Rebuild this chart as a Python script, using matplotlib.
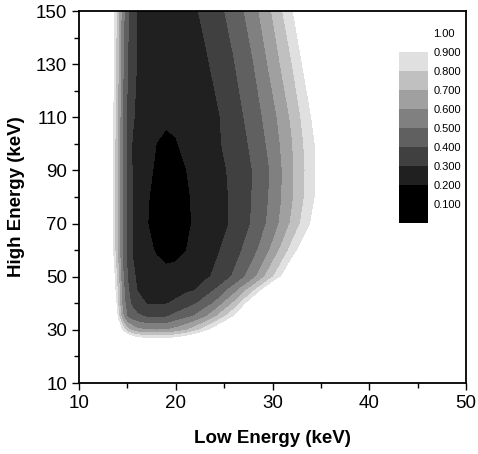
import numpy as np
import matplotlib.pyplot as plt

plt.rcParams['font.family'] = ['Liberation Sans', 'DejaVu Sans']

# grid (keV)
low_energy = [13, 13.5, 14, 14.5, 15, 15.5, 16, 17, 18, 19, 20, 21, 22, 23, 24, 26, 28, 30, 32, 34, 36]
high_energy = [25, 30, 35, 40, 45, 50, 60, 70, 80, 90, 100, 110, 130, 150]

# relative value at each (high, low) grid point, one row per high energy
ratio = [
    [1.60, 1.50, 1.40, 1.30, 1.20, 1.14, 1.10, 1.06, 1.05, 1.06, 1.08, 1.12, 1.17, 1.22, 1.28, 1.40, 1.55, 1.70, 1.80, 1.90, 2.00],
    [1.40, 1.20, 1.03, 0.87, 0.73, 0.67, 0.625, 0.60, 0.595, 0.598, 0.632, 0.684, 0.758, 0.85, 0.95, 1.15, 1.35, 1.50, 1.65, 1.80, 1.90],
    [1.40, 1.15, 0.87, 0.62, 0.49, 0.45, 0.42, 0.39, 0.385, 0.39, 0.434, 0.471, 0.514, 0.586, 0.68, 0.90, 1.15, 1.35, 1.50, 1.65, 1.80],
    [1.33, 1.08, 0.80, 0.567, 0.44, 0.379, 0.343, 0.295, 0.29, 0.295, 0.315, 0.352, 0.389, 0.444, 0.508, 0.714, 0.998, 1.28, 1.50, 1.65, 1.80],
    [1.25, 1.00, 0.775, 0.54, 0.42, 0.35, 0.297, 0.27, 0.256, 0.258, 0.268, 0.282, 0.298, 0.347, 0.40, 0.55, 0.773, 1.05, 1.35, 1.60, 1.80],
    [1.16, 0.96, 0.75, 0.52, 0.40, 0.317, 0.29, 0.26, 0.24, 0.23, 0.232, 0.243, 0.26, 0.28, 0.314, 0.413, 0.564, 0.788, 1.03, 1.30, 1.50],
    [1.10, 0.89, 0.68, 0.48, 0.376, 0.297, 0.27, 0.225, 0.19, 0.166, 0.175, 0.197, 0.224, 0.251, 0.278, 0.355, 0.462, 0.625, 0.837, 1.05, 1.25],
    [1.10, 0.89, 0.68, 0.48, 0.376, 0.297, 0.265, 0.205, 0.16, 0.13, 0.145, 0.18, 0.212, 0.237, 0.255, 0.315, 0.414, 0.54, 0.718, 0.905, 1.10],
    [1.10, 0.89, 0.68, 0.48, 0.376, 0.297, 0.27, 0.21, 0.17, 0.142, 0.152, 0.185, 0.214, 0.233, 0.255, 0.317, 0.406, 0.523, 0.683, 0.864, 1.04],
    [1.10, 0.89, 0.68, 0.48, 0.376, 0.297, 0.273, 0.225, 0.185, 0.16, 0.172, 0.197, 0.221, 0.24, 0.262, 0.322, 0.403, 0.516, 0.683, 0.855, 1.05],
    [1.10, 0.89, 0.68, 0.48, 0.376, 0.295, 0.27, 0.235, 0.199, 0.185, 0.195, 0.215, 0.235, 0.257, 0.278, 0.338, 0.421, 0.538, 0.692, 0.867, 1.03],
    [1.10, 0.90, 0.70, 0.49, 0.386, 0.314, 0.28, 0.24, 0.22, 0.212, 0.215, 0.225, 0.24, 0.258, 0.277, 0.354, 0.442, 0.564, 0.717, 0.895, 1.08],
    [1.12, 0.92, 0.72, 0.52, 0.40, 0.341, 0.295, 0.26, 0.235, 0.225, 0.23, 0.245, 0.263, 0.282, 0.319, 0.393, 0.495, 0.635, 0.796, 0.986, 1.18],
    [1.14, 0.94, 0.74, 0.54, 0.42, 0.356, 0.298, 0.27, 0.25, 0.24, 0.245, 0.26, 0.289, 0.323, 0.357, 0.439, 0.554, 0.707, 0.885, 1.09, 1.30],
]

levels = [0.0, 0.1, 0.2, 0.3, 0.4, 0.5, 0.6, 0.7, 0.8, 0.9, 1.0]
level_colors = ['#000000', '#000000', '#202020', '#404040', '#606060',
                '#808080', '#a0a0a0', '#c0c0c0', '#e0e0e0', '#ffffff']
cbar_ticks = [1.0, 0.9, 0.8, 0.7, 0.6, 0.5, 0.4, 0.3, 0.2, 0.1]
cbar_labels = ['1.00', '0.900', '0.800', '0.700', '0.600', '0.500', '0.400', '0.300', '0.200', '0.100']

fig = plt.figure(figsize=(4.78, 4.54), dpi=100)
ax = fig.add_axes([79 / 478, 1 - 383 / 454, 387 / 478, 372 / 454])

cf = ax.contourf(low_energy, high_energy, np.array(ratio), levels=levels, colors=level_colors)

ax.set_xlim(10, 50)
ax.set_ylim(10, 150)
ax.set_xticks([10, 20, 30, 40, 50])
ax.set_xticks([15, 25, 35, 45], minor=True)
ax.set_yticks([10, 30, 50, 70, 90, 110, 130, 150])
ax.set_yticks([20, 40, 60, 80, 100, 120, 140], minor=True)
ax.tick_params(which='both', direction='out', labelsize=13.5, width=1.0, top=False, right=False)
ax.tick_params(which='major', length=5)
ax.tick_params(which='minor', length=3.5)
for s in ax.spines.values():
    s.set_linewidth(1.3)

ax.set_xlabel('Low Energy (keV)', fontsize=13.5, fontweight='bold', labelpad=13)
ax.set_ylabel('High Energy (keV)', fontsize=13.5, fontweight='bold', labelpad=8)

# colour scale sits inside the plot on the right
cax = fig.add_axes([399 / 478, 1 - 223 / 454, 29 / 478, 190 / 454])
cb = fig.colorbar(cf, cax=cax, ticks=cbar_ticks)
cb.ax.set_yticklabels(cbar_labels)
cb.outline.set_visible(False)
cb.ax.tick_params(length=0, labelsize=8, pad=4)

fig.savefig('out.png', dpi=100)
